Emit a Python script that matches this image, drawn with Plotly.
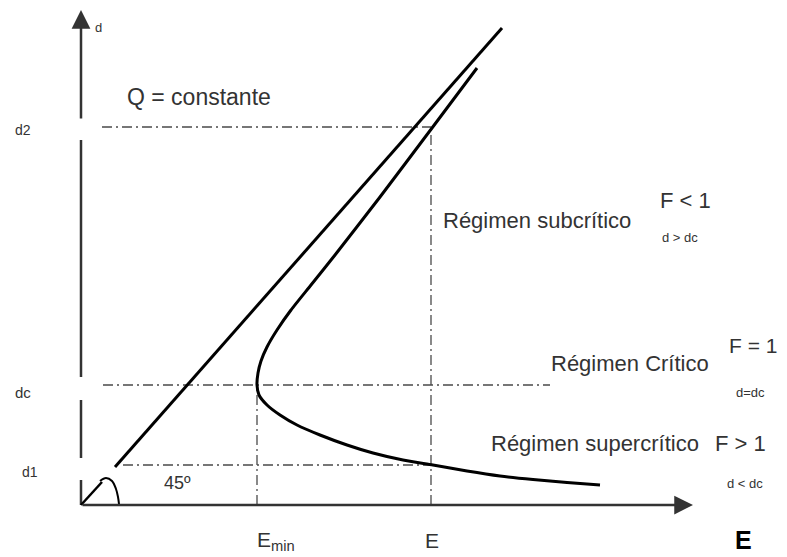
import plotly.graph_objects as go

# ---- data (E = specific energy, d = depth) ----
E_curve = [3.96, 3.51, 2.99, 2.54, 2.30, 2.10, 1.96, 1.86, 1.80, 1.77, 1.76,
           1.78, 1.86, 1.99, 2.16, 2.39, 2.66, 2.92, 3.22, 3.52, 3.86, 4.19, 4.52, 4.86, 5.19]
d_curve = [4.37, 3.77, 3.08, 2.50, 2.20, 1.95, 1.75, 1.58, 1.44, 1.32, 1.20,
           1.10, 1.00, 0.90, 0.80, 0.70, 0.60, 0.52, 0.45, 0.40, 0.34, 0.29, 0.255, 0.225, 0.20]

diag_E = [0.34, 4.21]          # 45° line d = E
diag_d = [0.38, 4.77]
small_E = [0.0, 0.21]          # short 45° segment at origin
small_d = [0.0, 0.23]
arc_E = [0.19, 0.25, 0.31, 0.35, 0.37, 0.38]
arc_d = [0.24, 0.27, 0.24, 0.16, 0.08, 0.01]

E_min = 1.76
E_op = 3.50
d_c = 1.20
d_1 = 0.40
d_2 = 3.78

axis_E_end = 6.12
axis_d_end = 4.95

tick_text_d = ["d2", "dc", "d1"]
tick_text_E = ["E<sub>min</sub>", "E"]

TXT = "#333333"
GUIDE = dict(color="#4a4a4a", width=1.3, dash="10px,4px,2px,4px")
FONT = "Liberation Sans, Arial, sans-serif"

fig = go.Figure()

# dash-dot guide lines
guides = [
    ([0.21, E_op], [d_2, d_2]),
    ([E_op, E_op], [0, d_2]),
    ([0.22, 4.69], [d_c, d_c]),
    ([E_min, E_min], [0, d_c]),
    ([0.42, E_op], [d_1, d_1]),
]
for gx, gy in guides:
    fig.add_trace(go.Scatter(x=gx, y=gy, mode="lines", line=GUIDE, hoverinfo="skip"))

# y axis (broken at the labels)
yax_x = [0, 0, None, 0, 0, None, 0, 0]
yax_y = [0, 0.25, None, 0.47, 1.05, None, 1.28, 3.65]
fig.add_trace(go.Scatter(x=yax_x, y=yax_y, mode="lines",
                         line=dict(color="#333", width=2.5), hoverinfo="skip"))

# 45 degree line and specific energy curve
fig.add_trace(go.Scatter(x=diag_E, y=diag_d, mode="lines",
                         line=dict(color="black", width=3), hoverinfo="skip"))
fig.add_trace(go.Scatter(x=E_curve, y=d_curve, mode="lines",
                         line=dict(color="black", width=3, shape="spline", smoothing=0.6),
                         hoverinfo="skip"))
fig.add_trace(go.Scatter(x=small_E, y=small_d, mode="lines",
                         line=dict(color="black", width=2.5), hoverinfo="skip"))
fig.add_trace(go.Scatter(x=arc_E, y=arc_d, mode="lines",
                         line=dict(color="black", width=2, shape="spline"), hoverinfo="skip"))

# axis arrows
fig.add_annotation(x=axis_E_end, y=0, ax=0, ay=0, axref="x", ayref="y",
                   showarrow=True, arrowhead=2, arrowsize=1.5, arrowwidth=2.5,
                   arrowcolor="#333", text="")
fig.add_annotation(x=0, y=axis_d_end, ax=0, ay=3.85, axref="x", ayref="y",
                   showarrow=True, arrowhead=2, arrowsize=1.5, arrowwidth=2.5,
                   arrowcolor="#333", text="")


def txt(x, y, s, size, color=TXT, bold=False):
    fig.add_annotation(x=x, y=y, text=("<b>%s</b>" % s) if bold else s, showarrow=False,
                       xanchor="center", yanchor="middle",
                       font=dict(size=size, color=color, family=FONT))


txt(0.17, 4.78, "d", 13)
txt(1.18, 4.08, "Q = constante", 23)

txt(-0.58, d_2 - 0.03, tick_text_d[0], 14)
txt(-0.58, d_c - 0.07, tick_text_d[1], 15)
txt(-0.51, d_1 - 0.07, tick_text_d[2], 14)
txt(0.96, 0.22, "45º", 18)

txt(E_min + 0.19, -0.36, tick_text_E[0], 21)
txt(E_op + 0.01, -0.35, tick_text_E[1], 21)
txt(6.62, -0.35, "E", 25, color="black", bold=True)

txt(4.56, 2.85, "Régimen subcrítico", 22)
txt(6.04, 3.05, "F < 1", 22)
txt(5.99, 2.68, "d &gt; dc", 13)

txt(5.49, 1.42, "Régimen Crítico", 22)
txt(6.72, 1.60, "F = 1", 21)
txt(6.69, 1.13, "d=dc", 13)

txt(5.14, 0.62, "Régimen supercrítico", 22)
txt(6.59, 0.62, "F > 1", 22)
txt(6.64, 0.22, "d &lt; dc", 13)

# page has an 8px body margin: the figure occupies page pixels 8..787 x 8..557
fig.update_layout(
    width=779, height=549,
    margin=dict(l=0, r=0, t=0, b=0),
    paper_bgcolor="white", plot_bgcolor="white",
    showlegend=False,
    xaxis=dict(range=[-0.73, 7.06], visible=False, fixedrange=True),
    yaxis=dict(range=[-0.52, 4.97], visible=False, fixedrange=True),
)

fig.write_html("out.html")
